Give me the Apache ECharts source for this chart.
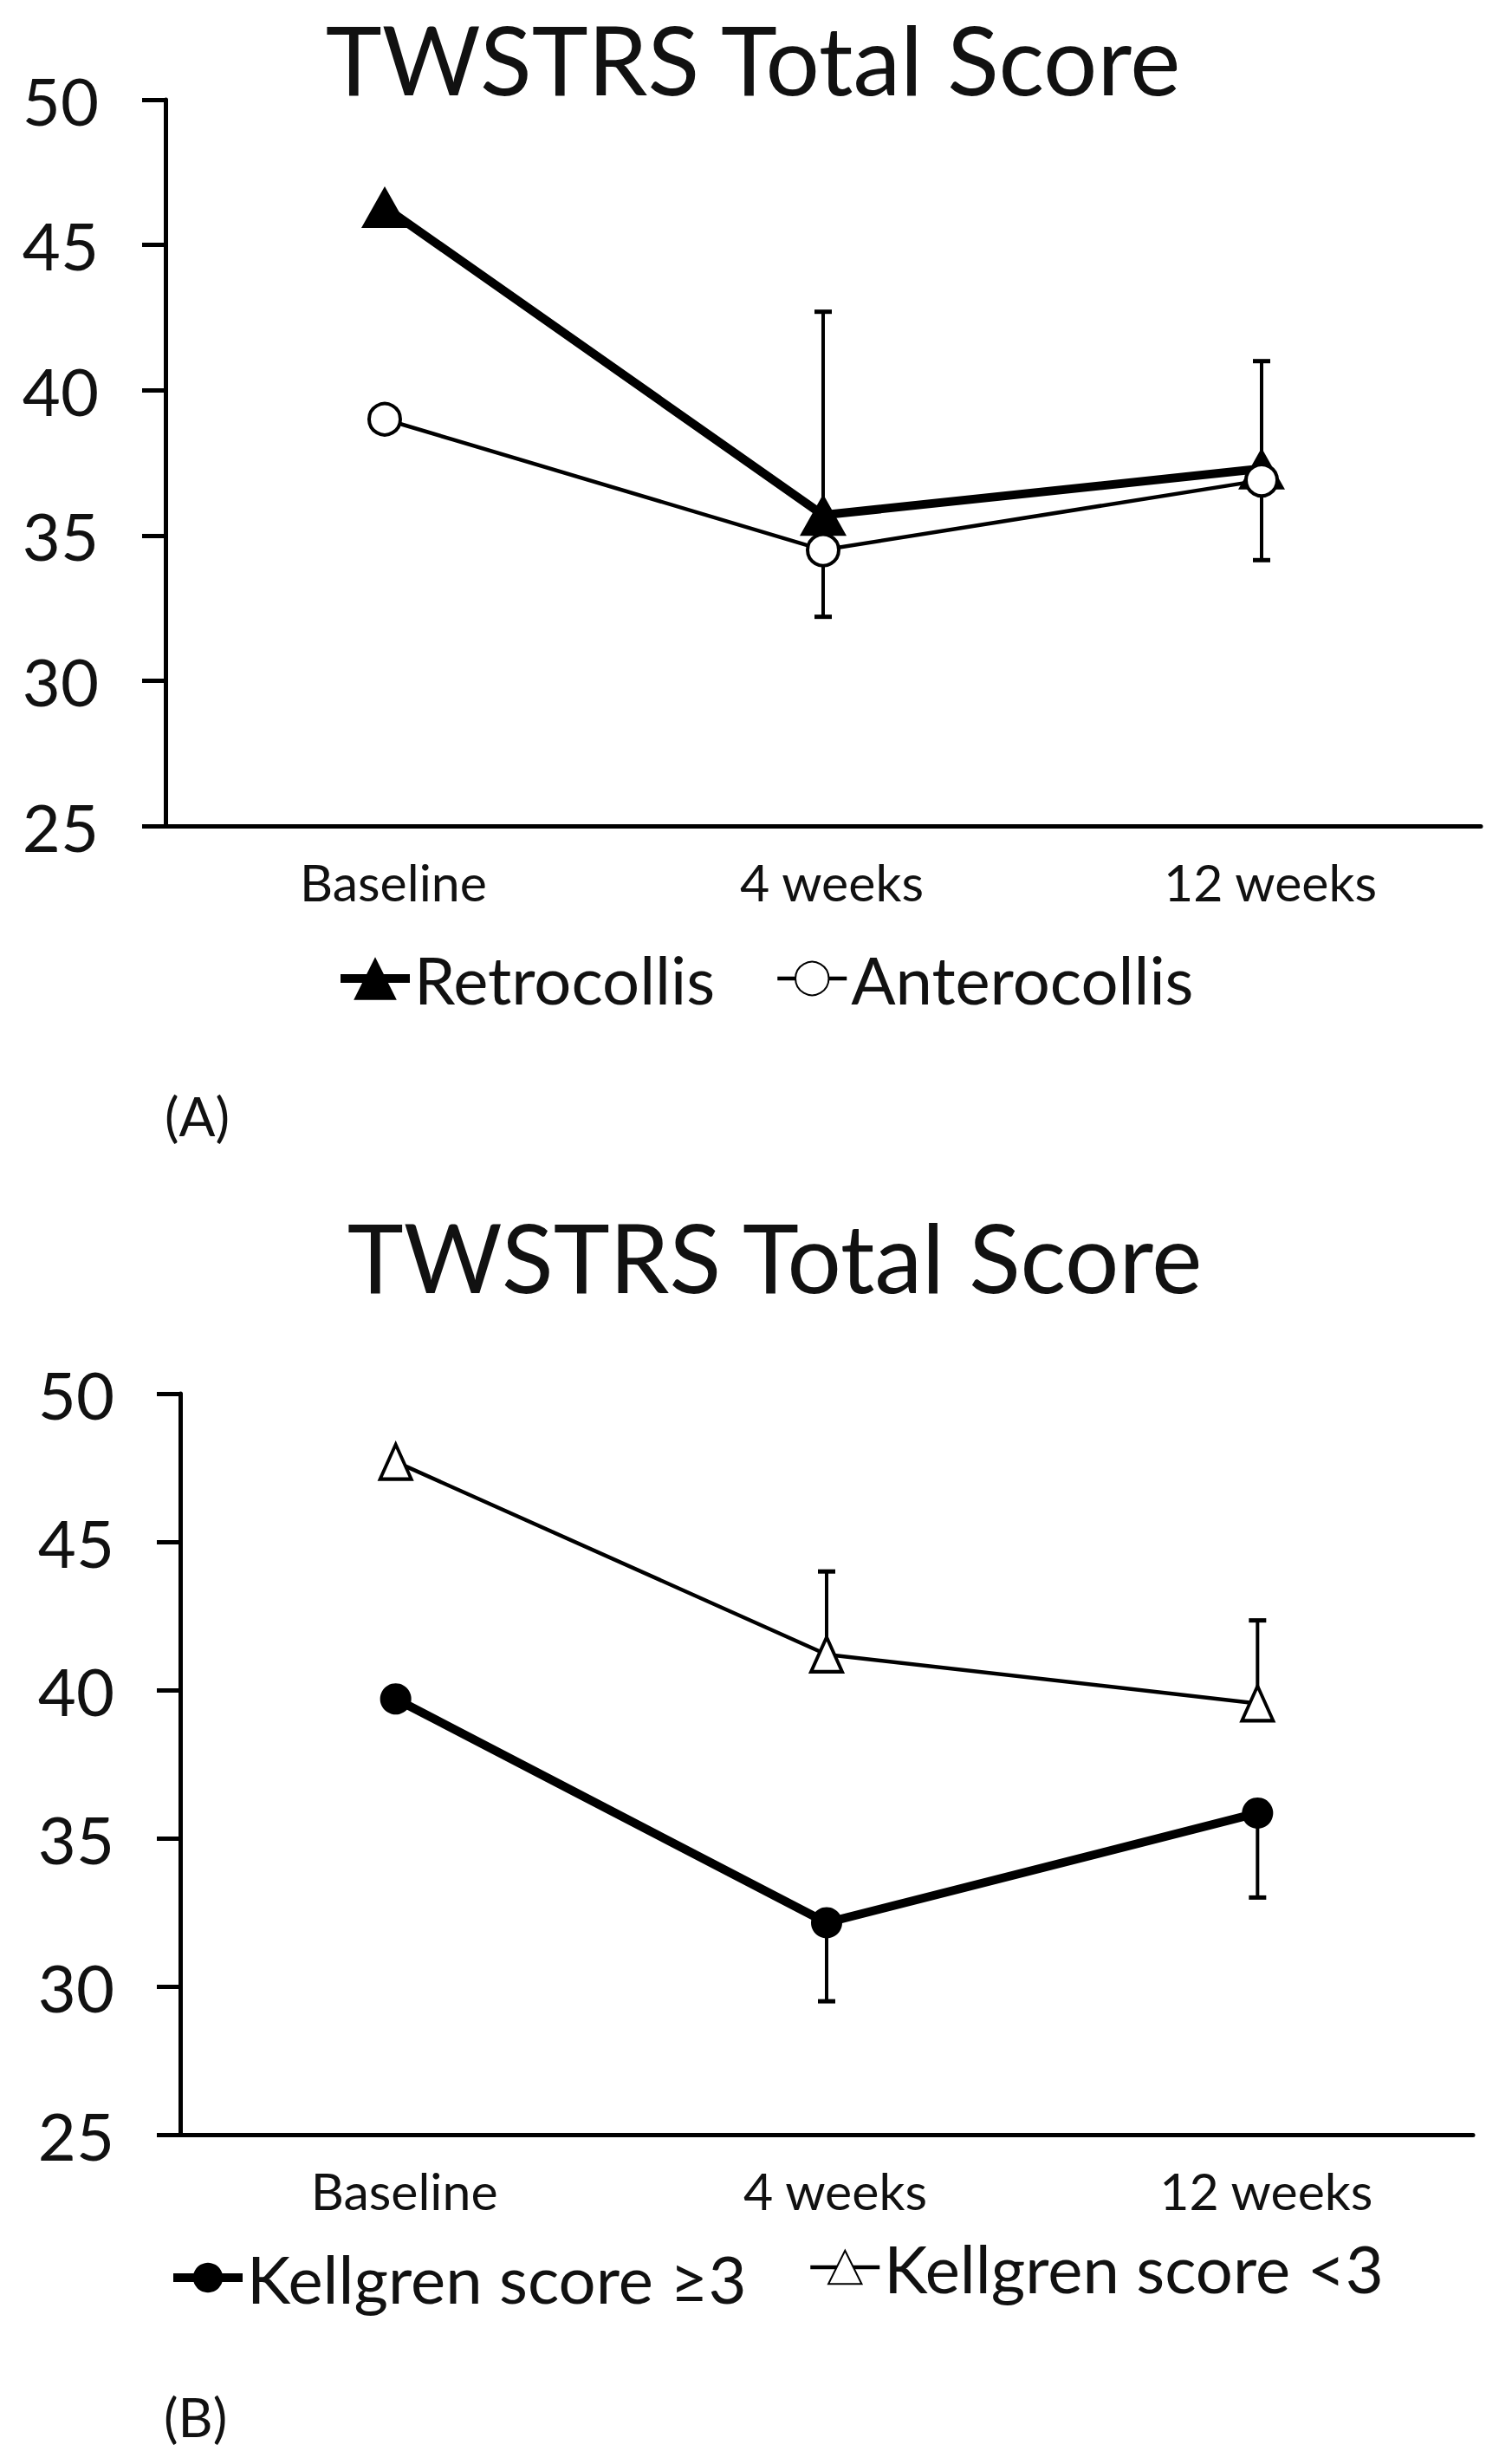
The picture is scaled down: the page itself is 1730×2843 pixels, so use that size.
<!DOCTYPE html>
<html>
<head>
<meta charset="utf-8">
<script src="https://cdn.jsdelivr.net/npm/echarts@6/dist/echarts.min.js"></script>
<style>html,body{margin:0;padding:0;background:#fff}#c{width:1730px;height:2843px}</style>
</head>
<body>
<div id="c"></div>
<script>
// ---- data ----
const categories = ['Baseline', '4 weeks', '12 weeks'];
const yTicks = [25, 30, 35, 40, 45, 50];
const titleText = 'TWSTRS Total Score';

const retrocollis = [46.3, 35.7, 37.3];
const retrocollisErrUp = [null, 7.0, 3.7];
const anterocollis = [39.0, 34.5, 36.9];
const anterocollisErrDown = [null, 2.3, 2.75];

const kellgrenGE3 = [39.7, 32.15, 35.85];
const kellgrenGE3ErrDown = [null, 2.65, 2.85];
const kellgrenLT3 = [47.7, 41.2, 39.55];
const kellgrenLT3ErrUp = [null, 2.8, 2.8];

const FONT = 'Lato';
const TXT = '#111';
const THICK = 10, THIN = 4.5;

const chart = echarts.init(document.getElementById('c'), null, {renderer: 'svg'});

function yAxis(gi, margin) {
  return {
    type: 'value', gridIndex: gi,
    min: yTicks[0], max: yTicks[yTicks.length - 1], interval: yTicks[1] - yTicks[0],
    axisLine: {show: true, lineStyle: {color: '#000', width: 5}},
    axisTick: {show: true, length: 27, lineStyle: {color: '#000', width: 5}},
    splitLine: {show: false},
    axisLabel: {fontSize: 76, fontFamily: FONT, color: TXT, margin: margin}
  };
}
function xAxis(gi) {
  return {
    type: 'category', gridIndex: gi, data: categories, boundaryGap: true,
    axisLine: {show: true, lineStyle: {color: '#000', width: 5}},
    axisTick: {show: false},
    splitLine: {show: false},
    axisLabel: {fontSize: 59, fontFamily: FONT, color: TXT, margin: 35, padding: [0, 0, 0, 20]}
  };
}
function lineSeries(name, gi, data, width, symbol, size, filled, z) {
  return {
    name: name, type: 'line', xAxisIndex: gi, yAxisIndex: gi, data: data,
    symbol: symbol, symbolSize: size, z: z,
    lineStyle: {color: '#000', width: width},
    itemStyle: filled ? {color: '#000', borderColor: '#000', borderWidth: 0}
                      : {color: '#fff', borderColor: '#000', borderWidth: 4},
    emphasis: {disabled: true}, animation: false
  };
}
function errSeries(gi, means, errs, dir) {
  const rows = [];
  means.forEach((m, i) => { if (errs[i] != null) rows.push([i, m, m + dir * errs[i]]); });
  return {
    type: 'custom', xAxisIndex: gi, yAxisIndex: gi, z: 1, silent: true, animation: false,
    encode: {x: 0, y: [1, 2]},
    data: rows,
    renderItem(params, api) {
      const p0 = api.coord([api.value(0), api.value(1)]);
      const p1 = api.coord([api.value(0), api.value(2)]);
      const cap = 10;
      return {type: 'group', children: [
        {type: 'line', shape: {x1: p0[0], y1: p0[1], x2: p1[0], y2: p1[1]}, style: {stroke: '#000', lineWidth: 4}},
        {type: 'line', shape: {x1: p1[0] - cap, y1: p1[1], x2: p1[0] + cap, y2: p1[1]}, style: {stroke: '#000', lineWidth: 5}}
      ]};
    }
  };
}
function legend(name, left, top, itemH, lineW, textPad) {
  return {
    data: [name], left: left, top: top, orient: 'horizontal',
    itemWidth: 80, itemHeight: itemH, selectedMode: false,
    lineStyle: {width: lineW, color: '#000'},
    textStyle: {fontSize: 76, fontFamily: FONT, color: TXT, lineHeight: 76, padding: textPad || 0}
  };
}
function txt(text, x, y, size, align) {
  return {type: 'text', x: x, y: y, silent: true,
    style: {text: text, fontSize: size, fontFamily: FONT, fill: TXT, align: align, verticalAlign: 'middle'}};
}

const option = {
  backgroundColor: '#fff',
  animation: false,
  grid: [
    {left: 191, top: 115, width: 1518, height: 838},
    {left: 208, top: 1608, width: 1492, height: 855}
  ],
  xAxis: [xAxis(0), xAxis(1)],
  yAxis: [yAxis(0, 77), yAxis(1, 76)],
  legend: [
    legend('Retrocollis', 383, 1086, 62, THICK),
    legend('Anterocollis', 890, 1086, 48, THIN),
    legend('Kellgren score \u22653', 190, 2567, 43, THICK, [36, 0, 0, 0]),
    legend('Kellgren score <3', 928, 2567, 48, THIN, [12, 0, 0, 0])
  ],
  graphic: [
    txt(titleText, 869, 67, 110, 'center'),
    txt(titleText, 894, 1449, 110, 'center'),
    txt('(A)', 190, 1287, 62, 'left'),
    txt('(B)', 189, 2788, 62, 'left')
  ],
  series: [
    errSeries(0, retrocollis, retrocollisErrUp, 1),
    errSeries(0, anterocollis, anterocollisErrDown, -1),
    lineSeries('Retrocollis', 0, retrocollis, THICK, 'triangle', [54, 48], true, 3),
    lineSeries('Anterocollis', 0, anterocollis, THIN, 'circle', 36, false, 4),
    errSeries(1, kellgrenLT3, kellgrenLT3ErrUp, 1),
    errSeries(1, kellgrenGE3, kellgrenGE3ErrDown, -1),
    lineSeries('Kellgren score \u22653', 1, kellgrenGE3, THICK, 'circle', 36, true, 3),
    lineSeries('Kellgren score <3', 1, kellgrenLT3, THIN, 'triangle', [36, 40], false, 4)
  ]
};
chart.setOption(option);
</script>
</body>
</html>
